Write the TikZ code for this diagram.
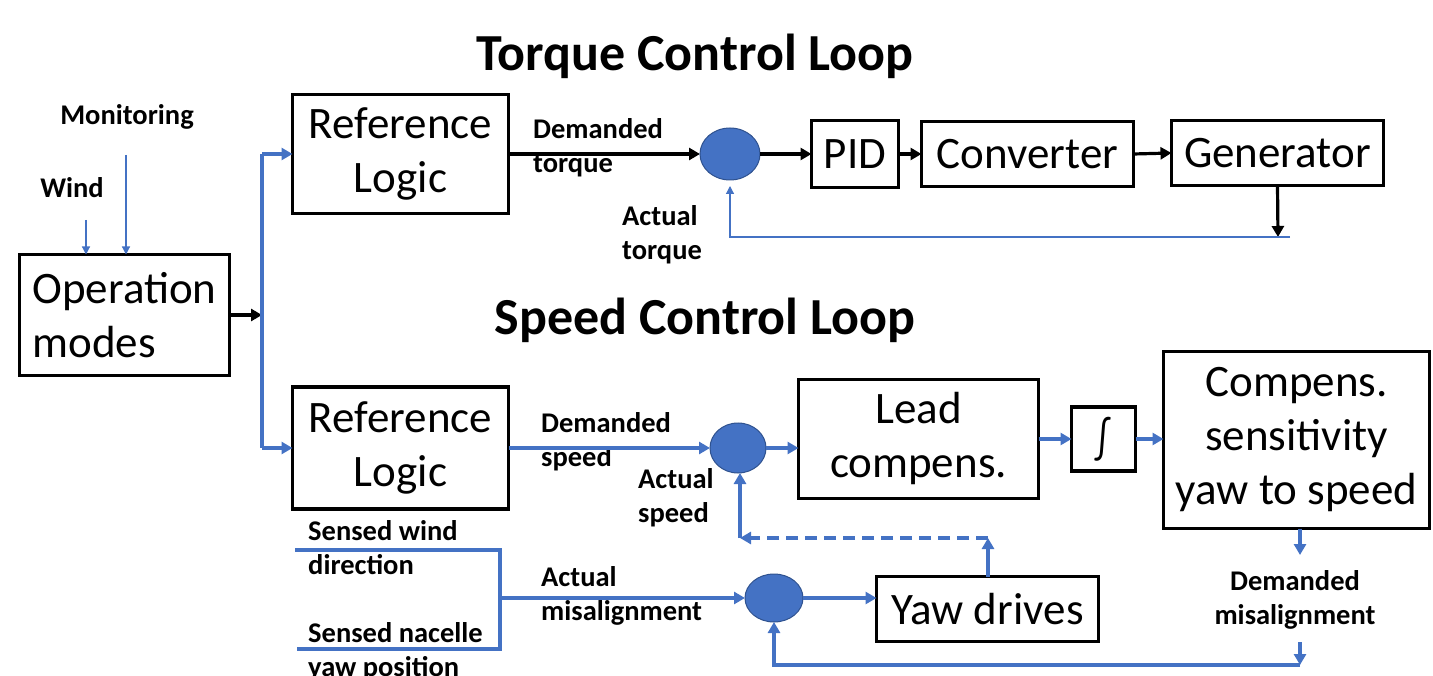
\documentclass[tikz,border=0pt]{standalone}
\usepackage{fontspec}
\setmainfont{Carlito}
\usetikzlibrary{arrows.meta,shapes.geometric}
\definecolor{obl}{RGB}{68,114,196}
\definecolor{obldark}{RGB}{47,82,143}
\begin{document}
\begin{tikzpicture}[x=1pt,y=-1pt,
  box/.style={draw,line width=3.5pt,inner sep=0pt,outer sep=0pt,align=center,
    font=\fontsize{45}{54}\selectfont},
  sumpt/.style={ellipse,fill=obl,draw=obldark,line width=1pt,inner sep=0pt,outer sep=0pt},
  lbl/.style={inner sep=0pt,align=left,font=\bfseries\fontsize{28.5}{34}\selectfont},
  ttl/.style={inner sep=0pt,font=\bfseries\fontsize{52}{60}\selectfont},
  ka/.style={line width=3.2pt,-{Triangle[length=11pt,width=12pt]}},
  ba/.style={draw=obl,line width=3.2pt,-{Triangle[length=11pt,width=12pt]}},
  bl/.style={draw=obl,line width=3.2pt},
  ta/.style={draw=obl,line width=1.2pt,-{Triangle[length=8pt,width=8pt]}},
]
\useasboundingbox (0,0) rectangle (1433,676);

% titles
\node[ttl] (t1) at (695,56) {Torque Control Loop};
\node[ttl] (t2) at (705,320) {Speed Control Loop};

% operation modes and its inputs
\node[box,align=left,minimum width=210pt,minimum height=121pt] (opm) at (124.5,315) {Operation\\modes};
\node[lbl] (mon) at (127,117) {Monitoring};
\node[lbl] (wnd) at (72,188) {Wind};
\coordinate (w0) at (86,220);
\coordinate (m0) at (126,155);
\draw[ta] (w0) -- (w0 |- opm.north);
\draw[ta] (m0) -- (m0 |- opm.north);
\coordinate (bus) at (262,315);
\draw[ka] (opm.east) -- (bus);

% torque loop
\node[box,minimum width=216pt,minimum height=119pt] (ref1) at (400.5,154) {Reference\\Logic};
\node[sumpt,minimum width=60pt,minimum height=52pt] (s1) at (730,154) {};
\node[box,minimum width=87pt,minimum height=67pt] (pid) at (855,154) {PID};
\node[box,minimum width=212pt,minimum height=65pt] (conv) at (1027.5,154) {Converter};
\node[box,minimum width=212pt,minimum height=65pt] (gen) at (1277.5,153) {Generator};
\node[lbl,anchor=north west] (dt) at (533,118) {Demanded\\torque};
\node[lbl,anchor=north west] (at) at (622,205) {Actual\\torque};
\draw[ka] (ref1.east) -- (s1.west);
\draw[ka] (s1.east) -- (pid.west);
\draw[ka] (pid.east) -- (conv.west);
\draw[ka] (conv.east) -- (gen.west);
\coordinate (gfb) at (1278,237);
\coordinate (fbe) at (1290,237);
\draw[ka] (gen.south) -- (gfb);
\draw[ta,shorten >=6pt] (fbe) -- (fbe -| s1) -- (s1.south);

% bus feeding both reference blocks
\node[box,minimum width=216pt,minimum height=122pt] (ref2) at (400.5,448) {Reference\\Logic};
\draw[bl] (bus |- ref1.west) -- (bus |- ref2.west);
\draw[ba] (bus |- ref1.west) -- (ref1.west);
\draw[ba] (bus |- ref2.west) -- (ref2.west);

% speed loop
\node[sumpt,minimum width=56pt,minimum height=50pt] (s2) at (738,448) {};
\node[box,minimum width=240pt,minimum height=119pt] (lead) at (918.5,439) {Lead\\compens.};
\node[box,minimum width=64pt,minimum height=64pt] (integ) at (1103.5,439) {\raisebox{-2pt}{\scalebox{0.8}[1.05]{∫}}};
\node[box,minimum width=266pt,minimum height=177pt] (comp) at (1296.5,440) {Compens.\\sensitivity\\yaw to speed};
\node[lbl,anchor=north west] (ds) at (541,412) {Demanded\\speed};
\node[lbl,anchor=north west] (as) at (638,468) {Actual\\speed};
\draw[ba] (ref2.east) -- (s2.west);
\draw[ba] (s2.east) -- (s2.east -| lead.west);
\draw[ba] (lead.east) -- (integ.west);
\draw[ba] (integ.east) -- (integ.east -| comp.west);

% yaw loop
\node[sumpt,minimum width=58pt,minimum height=48pt] (s3) at (774,598) {};
\node[box,minimum width=222pt,minimum height=65pt] (yaw) at (987.5,609) {Yaw drives};
\node[lbl,anchor=north west] (swd) at (308,520) {Sensed wind\\direction};
\node[lbl,anchor=north west] (snp) at (308,622) {Sensed nacelle\\yaw position};
\node[lbl,anchor=north west] (am) at (541,566) {Actual\\misalignment};
\node[lbl,align=center] (dm) at (1295,600) {Demanded\\misalignment};
\coordinate (sw) at (295,550);
\coordinate (sn) at (297,649);
\coordinate (j1) at (500,550);
\coordinate (j2) at (500,649);
\coordinate (jm) at (500,598);
\draw[bl] (sw) -- (j1) -- (j2) -- (sn);
\draw[ba] (jm) -- (s3.west);
\draw[ba] (s3.east) -- (s3.east -| yaw.west);
\coordinate (yc) at (988,538);
\coordinate (sc) at (740,538);
\draw[ba] (yaw.north -| yc) -- (yc);
\draw[ba,dashed,dash pattern=on 12pt off 7pt] (yc) -- (sc);
\draw[ba] (sc) -- (sc |- s2.south);
\coordinate (dmt) at (1300,555);
\coordinate (dmb) at (1300,642);
\coordinate (dmo) at (1300,665);
\draw[ba] (comp.south -| dmt) -- (dmt);
\draw[ba] (dmb) -- (dmo);
\draw[ba] (dmo) -- (dmo -| s3) -- (s3.south);
\end{tikzpicture}
\end{document}
